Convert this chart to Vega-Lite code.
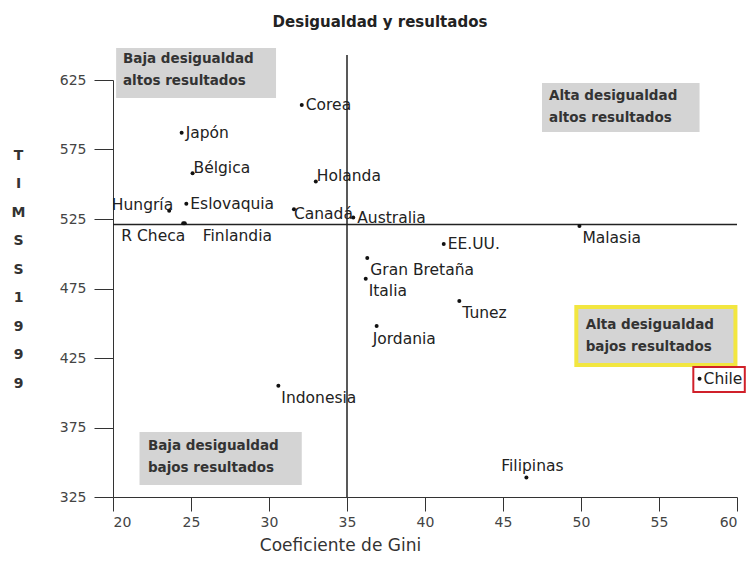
{
  "$schema": "https://vega.github.io/schema/vega-lite/v6.json",
  "autosize": {"type": "none"},
  "width": 624,
  "height": 417,
  "padding": {"left": 113, "top": 80, "right": 13, "bottom": 81},
  "background": "white",
  "config": {
    "view": {"stroke": null},
    "font": "DejaVu Sans",
    "text": {"font": "DejaVu Sans"}
  },
  "title": {
    "text": "Desigualdad y resultados",
    "fontSize": 15,
    "fontWeight": "bold",
    "color": "#222",
    "anchor": "middle",
    "frame": "group",
    "dx": -45,
    "offset": 18
  },
  "datasets": {
    "paises": [
      {"pais": "Corea", "gini": 32.1, "timss": 607},
      {"pais": "Japón", "gini": 24.4, "timss": 587},
      {"pais": "Bélgica", "gini": 25.1, "timss": 558},
      {"pais": "Holanda", "gini": 33.0, "timss": 552},
      {"pais": "Hungría", "gini": 23.6, "timss": 531},
      {"pais": "Eslovaquia", "gini": 24.7, "timss": 536},
      {"pais": "R Checa", "gini": 24.5, "timss": 522},
      {"pais": "Finlandia", "gini": 24.6, "timss": 522},
      {"pais": "Canadá", "gini": 31.6, "timss": 532},
      {"pais": "Australia", "gini": 35.4, "timss": 526},
      {"pais": "Malasia", "gini": 49.9, "timss": 520},
      {"pais": "EE.UU.", "gini": 41.2, "timss": 507},
      {"pais": "Gran Bretaña", "gini": 36.3, "timss": 497},
      {"pais": "Italia", "gini": 36.2, "timss": 482},
      {"pais": "Tunez", "gini": 42.2, "timss": 466},
      {"pais": "Jordania", "gini": 36.9, "timss": 448},
      {"pais": "Indonesia", "gini": 30.6, "timss": 405},
      {"pais": "Filipinas", "gini": 46.5, "timss": 339},
      {"pais": "Chile", "gini": 57.6, "timss": 410}
    ],
    "cuadros": [
      {"tipo": "gris", "x1": 20.2, "x2": 30.45, "y1": 612, "y2": 648, "tx": 20.64, "ty": 645.5, "texto": "Baja desigualdad\naltos resultados"},
      {"tipo": "gris", "x1": 47.5, "x2": 57.6, "y1": 587.6, "y2": 622.8, "tx": 47.95, "ty": 618.5, "texto": "Alta desigualdad\naltos resultados"},
      {"tipo": "amarillo", "x1": 49.7, "x2": 59.9, "y1": 420, "y2": 461.7, "tx": 50.3, "ty": 453.8, "texto": "Alta desigualdad\nbajos resultados"},
      {"tipo": "gris", "x1": 21.7, "x2": 32.1, "y1": 333.6, "y2": 371.8, "tx": 22.24, "ty": 366.7, "texto": "Baja desigualdad\nbajos resultados"}
    ],
    "marco": [
      {"x1": 57.2, "x2": 60.5, "y1": 400.5, "y2": 418.5}
    ],
    "lineas_v": [{"x": 35, "y1": 325, "y2": 643}],
    "lineas_h": [{"y": 521, "x1": 20, "x2": 60}]
  },
  "layer": [
    {
      "data": {"name": "cuadros"},
      "transform": [{"filter": "datum.tipo === 'gris'"}],
      "mark": {"type": "rect", "fill": "#d4d4d4", "clip": false},
      "encoding": {
        "x": {"field": "x1", "type": "quantitative", "scale": {"domain": [20, 60], "nice": false, "zero": false},
          "axis": {"values": [20, 25, 30, 35, 40, 45, 50, 55, 60], "grid": false, "domainColor": "#333", "tickColor": "#333", "tickSize": 14, "labelPadding": 4, "labelFontSize": 14, "labelColor": "#444", "title": "Coeficiente de Gini", "titleFontSize": 17, "titleFontWeight": "normal", "titleColor": "#333", "titleX": 227, "titleY": 48, "titleBaseline": "middle", "titleAnchor": null, "titleAlign": "center"}},
        "x2": {"field": "x2"},
        "y": {"field": "y1", "type": "quantitative", "scale": {"domain": [325, 625], "nice": false, "zero": false},
          "axis": {"values": [325, 375, 425, 475, 525, 575, 625], "grid": false, "domainColor": "#333", "tickColor": "#333", "tickSize": 19, "labelPadding": 8, "labelFontSize": 14, "labelColor": "#444", "title": ["T", "I", "M", "S", "S", "", "1", "9", "9", "9"], "titleAngle": 0, "titleX": -95, "titleY": 68, "titleAlign": "center", "titleBaseline": "top", "titleLineHeight": 28.5, "titleFontSize": 14, "titleFontWeight": "bold", "titleColor": "#333"}},
        "y2": {"field": "y2"}
      }
    },
    {
      "data": {"name": "cuadros"},
      "transform": [{"filter": "datum.tipo === 'amarillo'"}],
      "mark": {"type": "rect", "fill": "#d4d4d4", "stroke": "#f2e640", "strokeWidth": 4, "clip": false},
      "encoding": {
        "x": {"field": "x1", "type": "quantitative"},
        "x2": {"field": "x2"},
        "y": {"field": "y1", "type": "quantitative"},
        "y2": {"field": "y2"}
      }
    },
    {
      "data": {"name": "marco"},
      "mark": {"type": "rect", "fill": "white", "stroke": "#d0202a", "strokeWidth": 2, "clip": false},
      "encoding": {
        "x": {"field": "x1", "type": "quantitative"},
        "x2": {"field": "x2"},
        "y": {"field": "y1", "type": "quantitative"},
        "y2": {"field": "y2"}
      }
    },
    {
      "data": {"name": "cuadros"},
      "mark": {"type": "text", "align": "left", "baseline": "top", "fontSize": 13.5, "fontWeight": "bold", "color": "#333", "lineBreak": "\n", "lineHeight": 22, "clip": false},
      "encoding": {
        "x": {"field": "tx", "type": "quantitative"},
        "y": {"field": "ty", "type": "quantitative"},
        "text": {"field": "texto"}
      }
    },
    {
      "data": {"name": "lineas_v"},
      "mark": {"type": "rule", "color": "#222", "strokeWidth": 1.5, "clip": false},
      "encoding": {
        "x": {"field": "x", "type": "quantitative"},
        "y": {"field": "y1", "type": "quantitative"},
        "y2": {"field": "y2"}
      }
    },
    {
      "data": {"name": "lineas_h"},
      "mark": {"type": "rule", "color": "#222", "strokeWidth": 1.5, "clip": false},
      "encoding": {
        "y": {"field": "y", "type": "quantitative"},
        "x": {"field": "x1", "type": "quantitative"},
        "x2": {"field": "x2"}
      }
    },
    {
      "data": {"name": "paises"},
      "mark": {"type": "circle", "color": "#111", "size": 16, "opacity": 1},
      "encoding": {
        "x": {"field": "gini", "type": "quantitative"},
        "y": {"field": "timss", "type": "quantitative"}
      }
    },
    {
      "data": {"name": "paises"},
      "transform": [{"filter": {"field": "pais", "oneOf": ["Corea", "Japón", "Eslovaquia", "Australia", "EE.UU.", "Chile"]}}],
      "mark": {"type": "text", "align": "left", "baseline": "middle", "dx": 4, "dy": 0, "fontSize": 15.5, "color": "#222"},
      "encoding": {
        "x": {"field": "gini", "type": "quantitative"},
        "y": {"field": "timss", "type": "quantitative"},
        "text": {"field": "pais"}
      }
    },
    {
      "data": {"name": "paises"},
      "transform": [{"filter": {"field": "pais", "oneOf": ["Bélgica", "Holanda"]}}],
      "mark": {"type": "text", "align": "left", "baseline": "middle", "dx": 1, "dy": -5, "fontSize": 15.5, "color": "#222"},
      "encoding": {
        "x": {"field": "gini", "type": "quantitative"},
        "y": {"field": "timss", "type": "quantitative"},
        "text": {"field": "pais"}
      }
    },
    {
      "data": {"name": "paises"},
      "transform": [{"filter": {"field": "pais", "oneOf": ["Malasia", "Gran Bretaña", "Italia", "Tunez", "Indonesia"]}}],
      "mark": {"type": "text", "align": "left", "baseline": "middle", "dx": 3, "dy": 12, "fontSize": 15.5, "color": "#222"},
      "encoding": {
        "x": {"field": "gini", "type": "quantitative"},
        "y": {"field": "timss", "type": "quantitative"},
        "text": {"field": "pais"}
      }
    },
    {
      "data": {"name": "paises"},
      "transform": [{"filter": {"field": "pais", "oneOf": ["Jordania"]}}],
      "mark": {"type": "text", "align": "left", "baseline": "middle", "dx": -4, "dy": 13, "fontSize": 15.5, "color": "#222"},
      "encoding": {
        "x": {"field": "gini", "type": "quantitative"},
        "y": {"field": "timss", "type": "quantitative"},
        "text": {"field": "pais"}
      }
    },
    {
      "data": {"name": "paises"},
      "transform": [{"filter": {"field": "pais", "oneOf": ["Canadá"]}}],
      "mark": {"type": "text", "align": "left", "baseline": "middle", "dx": 0, "dy": 5, "fontSize": 15.5, "color": "#222"},
      "encoding": {
        "x": {"field": "gini", "type": "quantitative"},
        "y": {"field": "timss", "type": "quantitative"},
        "text": {"field": "pais"}
      }
    },
    {
      "data": {"name": "paises"},
      "transform": [{"filter": {"field": "pais", "oneOf": ["Hungría"]}}],
      "mark": {"type": "text", "align": "right", "baseline": "middle", "dx": 4, "dy": -6, "fontSize": 15.5, "color": "#222"},
      "encoding": {
        "x": {"field": "gini", "type": "quantitative"},
        "y": {"field": "timss", "type": "quantitative"},
        "text": {"field": "pais"}
      }
    },
    {
      "data": {"name": "paises"},
      "transform": [{"filter": {"field": "pais", "oneOf": ["R Checa"]}}],
      "mark": {"type": "text", "align": "right", "baseline": "middle", "dx": 2, "dy": 13, "fontSize": 15.5, "color": "#222"},
      "encoding": {
        "x": {"field": "gini", "type": "quantitative"},
        "y": {"field": "timss", "type": "quantitative"},
        "text": {"field": "pais"}
      }
    },
    {
      "data": {"name": "paises"},
      "transform": [{"filter": {"field": "pais", "oneOf": ["Finlandia"]}}],
      "mark": {"type": "text", "align": "left", "baseline": "middle", "dx": 18, "dy": 13, "fontSize": 15.5, "color": "#222"},
      "encoding": {
        "x": {"field": "gini", "type": "quantitative"},
        "y": {"field": "timss", "type": "quantitative"},
        "text": {"field": "pais"}
      }
    },
    {
      "data": {"name": "paises"},
      "transform": [{"filter": {"field": "pais", "oneOf": ["Filipinas"]}}],
      "mark": {"type": "text", "align": "center", "baseline": "middle", "dx": 6, "dy": -12, "fontSize": 15.5, "color": "#222"},
      "encoding": {
        "x": {"field": "gini", "type": "quantitative"},
        "y": {"field": "timss", "type": "quantitative"},
        "text": {"field": "pais"}
      }
    }
  ]
}
